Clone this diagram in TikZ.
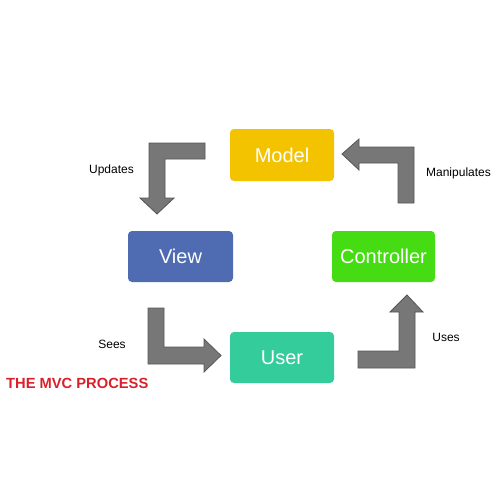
\documentclass[tikz,border=0pt]{standalone}
\usepackage{fontspec}
\setmainfont{Liberation Sans}
\definecolor{cmodel}{HTML}{F4C300}
\definecolor{cview}{HTML}{4F6BB2}
\definecolor{cctrl}{HTML}{46DC14}
\definecolor{cuser}{HTML}{33CC9A}
\definecolor{carrow}{HTML}{777777}
\definecolor{carrowline}{HTML}{555555}
\definecolor{ctitle}{HTML}{D9212B}
\begin{document}
\begin{tikzpicture}[x=1pt,y=-1pt,
  box/.style={rounded corners=4pt, text=white, font=\fontsize{20}{24}\selectfont},
  blockarrow/.style={fill=carrow, draw=carrowline, line width=0.8pt, line join=miter},
  lbl/.style={font=\fontsize{12}{14}\selectfont, text=black}]
\useasboundingbox[fill=white] (0,0) rectangle (500,500);
% boxes
\fill[cmodel, rounded corners=4pt] (230,129) rectangle (334,181);
\node[text=white, font=\fontsize{20}{24}\selectfont] (model) at (282,155) {Model};
\fill[cview, rounded corners=4pt] (128,231) rectangle (233,282);
\node[text=white, font=\fontsize{20}{24}\selectfont] (view) at (180.5,256.5) {View};
\fill[cctrl, rounded corners=4pt] (332,231) rectangle (435,282);
\node[text=white, font=\fontsize{20}{24}\selectfont] (ctrl) at (383.5,256.5) {Controller};
\fill[cuser, rounded corners=4pt] (230,332) rectangle (334,383);
\node[text=white, font=\fontsize{20}{24}\selectfont] (user) at (282,357.5) {User};
% block arrows
\draw[blockarrow] (205,143) -- (149,143) -- (149,198) -- (140,198) -- (157,214) -- (174,198) -- (165,198) -- (165,159) -- (205,159) -- cycle;
\draw[blockarrow] (398,203) -- (398,163) -- (359,163) -- (359,170) -- (342,154) -- (359,139) -- (359,147) -- (414,147) -- (414,203) -- cycle;
\draw[blockarrow] (148,308) -- (164,308) -- (164,347) -- (204,347) -- (204,339) -- (221,355.5) -- (204,372) -- (204,364) -- (148,364) -- cycle;
\draw[blockarrow] (358,368) -- (358,351) -- (399,351) -- (399,312) -- (390,312) -- (407,295) -- (423,312) -- (415,312) -- (415,368) -- cycle;
% labels
\node[lbl] (lupd) at (111.5,170) {Updates};
\node[lbl] (lman) at (458.5,173) {Manipulates};
\node[lbl] (lsees) at (112,344) {Sees};
\node[lbl] (luses) at (446,337) {Uses};
\node[anchor=west, inner sep=0pt, text=ctitle, font=\bfseries\fontsize{14.7}{17}\selectfont] (title) at (6,383.5) {THE MVC PROCESS};
\end{tikzpicture}
\end{document}
